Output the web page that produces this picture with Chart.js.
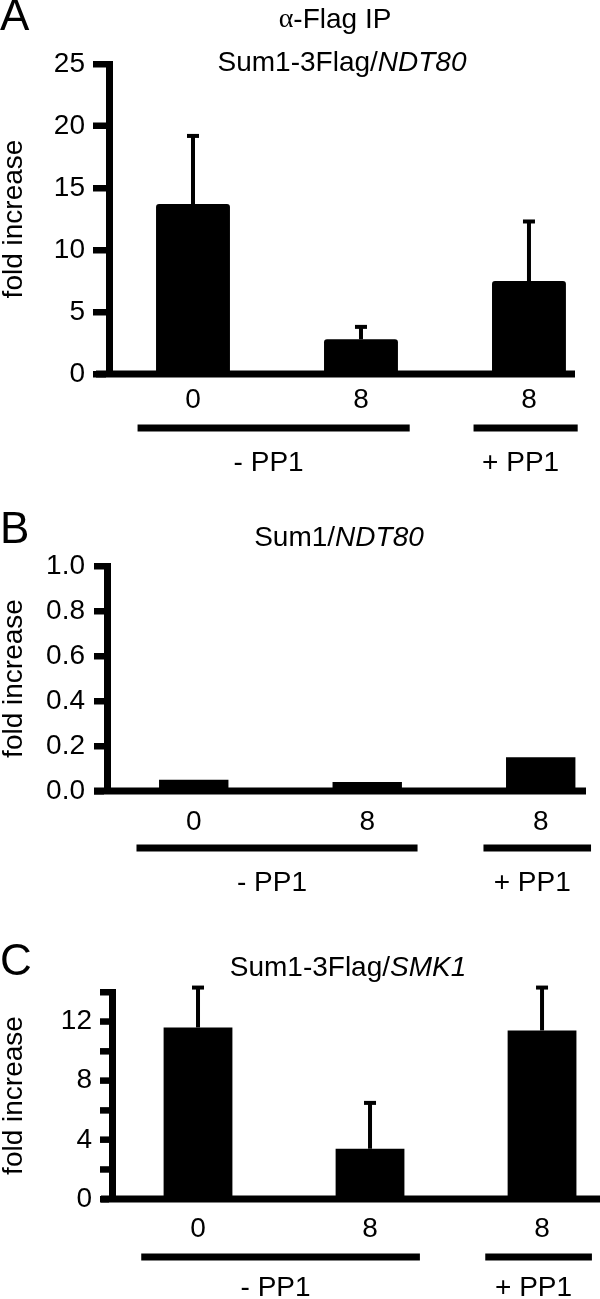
<!DOCTYPE html>
<html><head><meta charset="utf-8">
<script src="https://cdn.jsdelivr.net/npm/chart.js@4/dist/chart.umd.min.js"></script>
<style>
html,body{margin:0;padding:0;background:#fff;width:600px;height:1299px;overflow:hidden;position:relative;}
canvas{position:absolute;left:0;}
</style></head><body>
<canvas id="cA" width="600" height="490" style="top:0px"></canvas>
<canvas id="cB" width="600" height="420" style="top:490px"></canvas>
<canvas id="cC" width="600" height="389" style="top:910px"></canvas>
<script>
// ---- data ----
const timeLabels = ['0', '8', '8'];
const groupLabels = ['- PP1', '+ PP1'];
const groupFirst = [0, 2];
const groupLast = [1, 2];

const valuesA = [13.7, 2.8, 7.5];
const errorsA = [5.5, 1.0, 4.8];
const tickValuesA = [0, 5, 10, 15, 20, 25];
const tickLabelsA = ['0', '5', '10', '15', '20', '25'];

const valuesB = [0.05, 0.04, 0.15];
const tickValuesB = [0, 0.2, 0.4, 0.6, 0.8, 1.0];
const tickLabelsB = ['0.0', '0.2', '0.4', '0.6', '0.8', '1.0'];

const valuesC = [11.6, 3.4, 11.4];
const errorsC = [2.7, 3.1, 2.9];
const tickValuesC = [0, 2, 4, 6, 8, 10, 12, 14];
const tickLabelsC = ['0', '', '4', '', '8', '', '12', ''];

const yTitle = 'fold increase';

// ---- drawing ----
const SANS = '"Liberation Sans", Arial, Helvetica, sans-serif';
const SERIF = '"Liberation Serif", "Times New Roman", serif';

function drawRich(ctx, parts, cx, y) {
  let w = 0;
  parts.forEach(p => { ctx.font = p.font; w += ctx.measureText(p.t).width; });
  let x = cx - w / 2;
  ctx.textAlign = 'left';
  ctx.textBaseline = 'middle';
  parts.forEach(p => { ctx.font = p.font; ctx.fillText(p.t, x, y); x += ctx.measureText(p.t).width; });
}

const decorPlugin = {
  id: 'decor',
  afterDatasetsDraw(chart, args, o) {
    const ctx = chart.ctx;
    const xs = chart.scales.x, ys = chart.scales.y, ca = chart.chartArea;
    const y0 = ys.getPixelForValue(0);
    ctx.save();
    ctx.fillStyle = '#000';
    // y tick marks (thick)
    ys.ticks.forEach(t => {
      const py = ys.getPixelForValue(t.value);
      ctx.fillRect(ca.left - o.tickLen, py - 3, o.tickLen, 6);
    });
    // baseline
    ctx.fillRect(ca.left - o.ext, y0 - 3.5, ca.right - ca.left + o.ext, 7);
    // error bars
    const ds = chart.data.datasets[0];
    if (ds.errors) {
      const meta = chart.getDatasetMeta(0);
      meta.data.forEach((bar, i) => {
        const top = ys.getPixelForValue(ds.values[i] + ds.errors[i]);
        ctx.fillRect(bar.x - 2, top, 4, bar.y - top);
        ctx.fillRect(bar.x - 6, top - 2, 12, 4);
      });
    }
    // group brackets
    groupLabels.forEach((lab, g) => {
      const xa = xs.getPixelForValue(groupFirst[g] - 0.33);
      const xb = xs.getPixelForValue(groupLast[g] + 0.29);
      ctx.fillRect(xa, y0 + o.brk - 3.5, xb - xa, 7);
      ctx.font = '28px ' + SANS;
      ctx.textAlign = 'center';
      ctx.textBaseline = 'middle';
      ctx.fillText(lab, (xa + xb) / 2 - 5, y0 + o.brkLab);
    });
    // panel letter
    ctx.font = '44px ' + SANS;
    ctx.textAlign = 'left';
    ctx.textBaseline = 'middle';
    ctx.fillText(o.letter, 0, o.letterY);
    // titles
    o.titles.forEach(t => drawRich(ctx, t.parts, t.x, t.y));
    ctx.restore();
  }
};

function makeChart(id, values, errors, cfg) {
  return new Chart(document.getElementById(id), {
    type: 'bar',
    data: {
      datasets: [{
        data: values.map((v, i) => ({x: i, y: v})),
        values: values,
        errors: errors,
        backgroundColor: '#000',
        borderWidth: 0,
        borderRadius: cfg.radius,
        borderSkipped: 'bottom',
        barPercentage: cfg.barPct,
        categoryPercentage: 1
      }]
    },
    options: {
      responsive: false,
      devicePixelRatio: 1,
      animation: false,
      layout: {padding: {top: cfg.top, right: cfg.right, left: 0, bottom: 0}},
      plugins: {legend: {display: false}, tooltip: {enabled: false}, decor: cfg},
      scales: {
        x: {
          type: 'linear', min: -0.5, max: cfg.xmax, offset: false,
          grid: {display: false, drawTicks: false, tickLength: 0},
          border: {display: false},
          afterBuildTicks: s => { s.ticks = timeLabels.map((_, i) => ({value: i})); },
          ticks: {callback: (v, i) => timeLabels[i], font: {family: SANS, size: 28}, color: '#000',
                  padding: cfg.xpad, maxRotation: 0, minRotation: 0, autoSkip: false},
          afterFit: s => { s.height = cfg.xh; }
        },
        y: {
          min: 0, max: cfg.ymax,
          afterBuildTicks: s => { s.ticks = cfg.tickValues.map(v => ({value: v})); },
          ticks: {callback: (v, i) => cfg.tickLabels[i], font: {family: SANS, size: 28}, color: '#000',
                  padding: cfg.ypad, autoSkip: false},
          grid: {drawOnChartArea: false, drawTicks: true, tickLength: cfg.tickLen, tickWidth: 6, tickColor: '#000'},
          border: {display: true, width: 7, color: '#000'},
          title: {display: true, text: yTitle, font: {family: SANS, size: 28, lineHeight: 1}, color: '#000', padding: 0},
          afterFit: s => { s.width = cfg.left; }
        }
      }
    },
    plugins: [decorPlugin]
  });
}

const F = '28px ' + SANS, FI = 'italic 28px ' + SANS, FA = '28px ' + SERIF;

makeChart('cA', valuesA, errorsA, {
  top: 64, right: 25, left: 109, xh: 116, xmax: 2.274, ymax: 25,
  tickValues: tickValuesA, tickLabels: tickLabelsA, tickLen: 16, ypad: 8, xpad: 9,
  barPct: 0.44, radius: 3, ext: 13, brk: 54, brkLab: 89,
  letter: 'A', letterY: 18,
  titles: [
    {x: 335, y: 20, parts: [{t: '\u03b1', font: FA}, {t: '-Flag IP', font: F}]},
    {x: 342, y: 63, parts: [{t: 'Sum1-3Flag/', font: F}, {t: 'NDT80', font: FI}]}
  ]
});

makeChart('cB', valuesB, null, {
  top: 76, right: 14, left: 107, xh: 119, xmax: 2.261, ymax: 1.0,
  tickValues: tickValuesB, tickLabels: tickLabelsB, tickLen: 13, ypad: 9, xpad: 14,
  barPct: 0.40, radius: 0, ext: 13, brk: 57, brkLab: 92,
  letter: 'B', letterY: 41,
  titles: [
    {x: 339, y: 48, parts: [{t: 'Sum1/', font: F}, {t: 'NDT80', font: FI}]}
  ]
});

makeChart('cC', valuesC, errorsC, {
  top: 82, right: 0, left: 112, xh: 100, xmax: 2.337, ymax: 14,
  tickValues: tickValuesC, tickLabels: tickLabelsC, tickLen: 12, ypad: 8, xpad: 13,
  barPct: 0.40, radius: 0, ext: 11, brk: 58, brkLab: 89,
  letter: 'C', letterY: 53,
  titles: [
    {x: 348, y: 58, parts: [{t: 'Sum1-3Flag/', font: F}, {t: 'SMK1', font: FI}]}
  ]
});
</script>
</body></html>
